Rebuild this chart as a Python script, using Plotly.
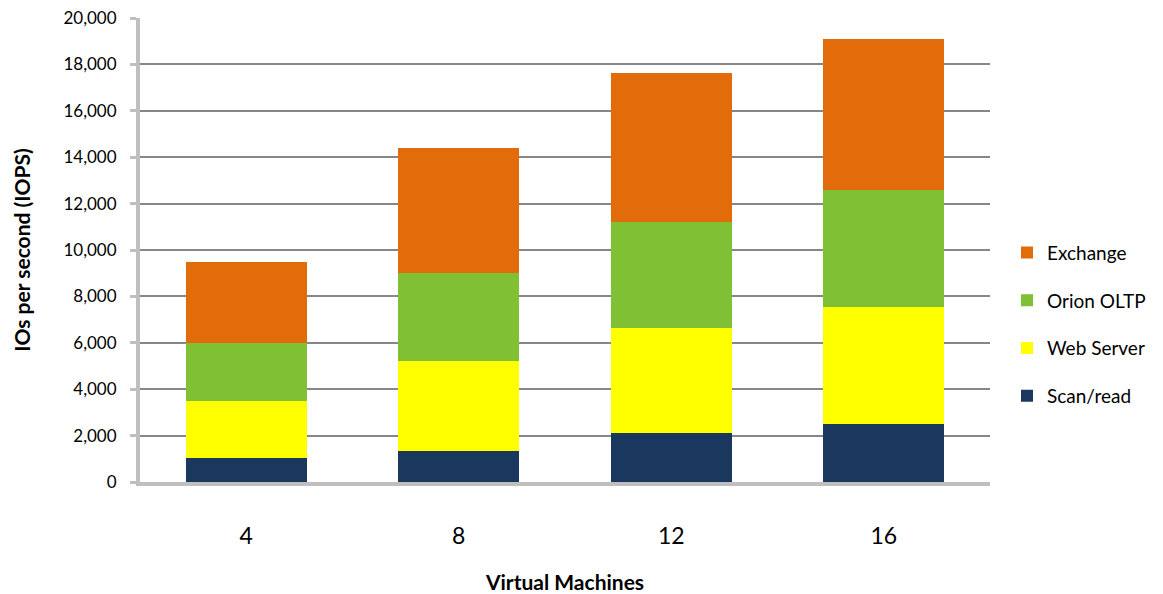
import plotly.graph_objects as go

# Virtual machine counts on the x axis
vms = ["4", "8", "12", "16"]

# IOPS per workload (stacked, bottom to top)
scan_read = [1050, 1350, 2100, 2500]
web_server = [2450, 3850, 4550, 5050]
orion_oltp = [2500, 3800, 4550, 5050]
exchange = [3500, 5400, 6450, 6500]

series = [
    ("Scan/read", scan_read, "#1A375E"),
    ("Web Server", web_server, "#FFFF00"),
    ("Orion OLTP", orion_oltp, "#7FC034"),
    ("Exchange", exchange, "#E36C0A"),
]

y_ticks = list(range(0, 20001, 2000))

fig = go.Figure()
for i, (name, vals, color) in enumerate(series):
    fig.add_trace(go.Bar(
        x=vms, y=vals, name=name, legendgroup=name,
        legendrank=len(series) - i,
        marker=dict(color=color, line=dict(width=0)),
    ))

font_family = "Lato, 'Open Sans', sans-serif"

fig.update_layout(
    barmode="stack",
    bargap=0.43,
    width=1163, height=594,
    margin=dict(l=140, r=173, t=18, b=112),
    paper_bgcolor="white",
    plot_bgcolor="white",
    font=dict(family=font_family, color="black"),
    legend=dict(
        traceorder="grouped",
        tracegroupgap=20,
        x=1.02, xanchor="left",
        y=0.34, yanchor="middle",
        font=dict(size=19, family=font_family),
        itemwidth=30,
    ),
    xaxis=dict(
        automargin=False,
        showline=True, linecolor="#BFBFBF", linewidth=4,
        ticks="", showgrid=False,
        tickfont=dict(size=23),
        ticklabelstandoff=30,
        title=dict(text="<b>Virtual Machines</b>", font=dict(size=21), standoff=33),
    ),
    yaxis=dict(
        automargin=False,
        range=[0, 20000],
        tickvals=y_ticks,
        tickformat=",",
        showline=True, linecolor="#BFBFBF", linewidth=4,
        ticks="outside", ticklen=6, tickcolor="#BFBFBF", tickwidth=3,
        showgrid=True, gridcolor="#878787", gridwidth=1.5,
        zeroline=False,
        tickfont=dict(size=17),
        ticklabelstandoff=10,
        title=dict(text="<b>IOs per second (IOPS)</b>", font=dict(size=21), standoff=28),
    ),
)

fig.write_html("out.html")
